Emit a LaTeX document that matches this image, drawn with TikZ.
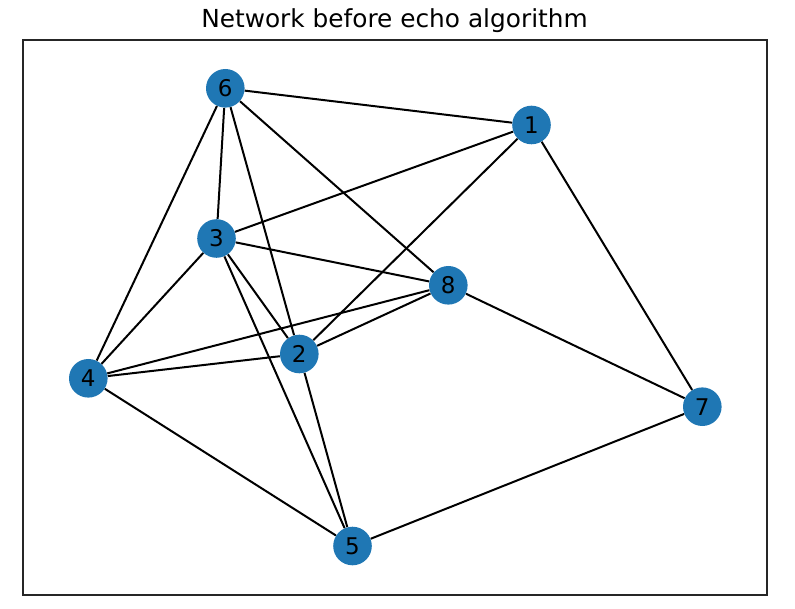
\documentclass[tikz,border=0pt]{standalone}
\usepackage{fontspec}
\setmainfont{DejaVu Sans}
\usetikzlibrary{positioning}
\definecolor{nodeblue}{HTML}{1F77B4}

\begin{document}
\begin{tikzpicture}[x=1pt, y=-1pt, semithick]
\tikzstyle{vertex}=[circle,fill=nodeblue,text=black,inner sep=0pt,minimum size=38.6pt,font=\fontsize{23}{23}\selectfont]
\tikzstyle{link}=[draw=black,line width=2pt]
\useasboundingbox (0,0) rectangle (795,609);
\draw[black!85, line width=1.8pt] (23,40) rectangle (767,595);
\node[anchor=base, font=\fontsize{24.8}{24.8}\selectfont] (title) at (394.5,28) {Network before echo algorithm};
\node[vertex] (n1) at (531.5,125)   {1};
\node[vertex] (n2) at (299.3,354)   {2};
\node[vertex] (n3) at (216.5,238.5) {3};
\node[vertex] (n4) at (88.3,378.3)  {4};
\node[vertex] (n5) at (352.5,546)   {5};
\node[vertex] (n6) at (225.3,88.3)  {6};
\node[vertex] (n7) at (702.3,406.7) {7};
\node[vertex] (n8) at (448.3,285.3) {8};
\path[link]
(n6) edge (n1)
     edge (n3)
     edge (n2)
     edge (n8)
     edge (n4)
(n1) edge (n3)
     edge (n2)
     edge (n7)
(n3) edge (n8)
     edge (n2)
     edge (n5)
     edge (n4)
(n8) edge (n2)
     edge (n4)
     edge (n7)
(n2) edge (n4)
     edge (n5)
(n5) edge (n4)
     edge (n7)
;
\end{tikzpicture}
\end{document}
